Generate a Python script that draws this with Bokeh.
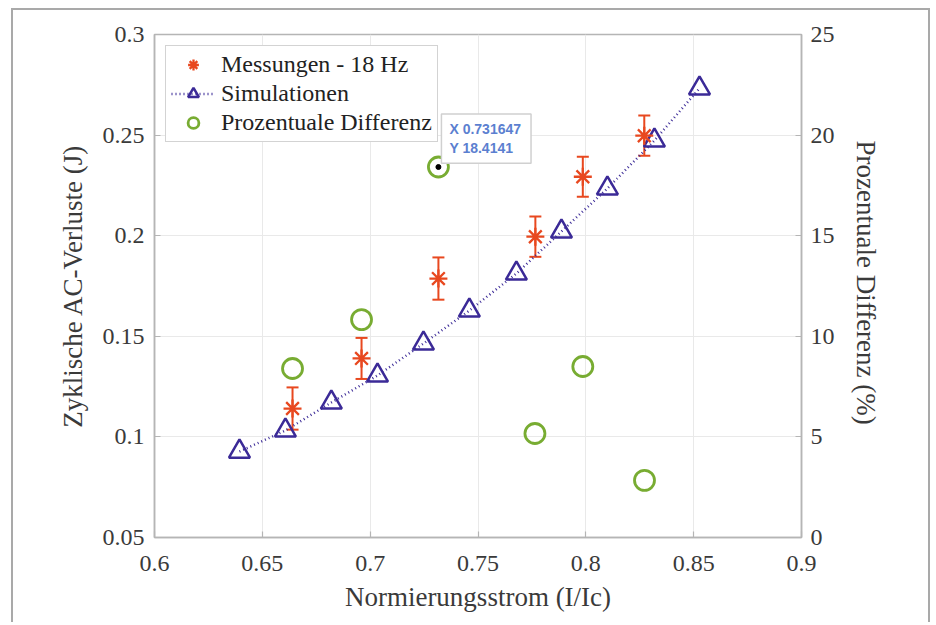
import math
from bokeh.plotting import figure
from bokeh.models import (Range1d, LinearAxis, FixedTicker, Whisker, ColumnDataSource,
                          Legend, LegendItem, Label, TeeHead)
from bokeh.embed import file_html
from bokeh.resources import INLINE

# ---- data ----
sim_x = [0.6394, 0.6607, 0.6820, 0.7034, 0.7247, 0.7460, 0.7678, 0.7887, 0.8100, 0.8318, 0.8527]
sim_y = [0.0927, 0.1032, 0.1171, 0.1305, 0.1464, 0.1628, 0.1812, 0.2021, 0.2235, 0.2473, 0.2732]

meas_x = [0.6640, 0.6960, 0.731647, 0.7766, 0.7986, 0.8271]
meas_y = [0.1141, 0.1390, 0.1787, 0.1995, 0.2293, 0.2497]
meas_err = [0.0105, 0.0102, 0.0105, 0.0100, 0.0100, 0.0100]

diff_x = [0.6640, 0.6960, 0.731647, 0.7764, 0.7986, 0.8272]
diff_y = [8.40, 10.83, 18.4141, 5.17, 8.50, 2.84]

x_ticks = [0.6, 0.65, 0.7, 0.75, 0.8, 0.85, 0.9]
x_labels = ["0.6", "0.65", "0.7", "0.75", "0.8", "0.85", "0.9"]
yl_ticks = [0.05, 0.1, 0.15, 0.2, 0.25, 0.3]
yl_labels = ["0.05", "0.1", "0.15", "0.2", "0.25", "0.3"]
yr_ticks = [0, 5, 10, 15, 20, 25]
yr_labels = ["0", "5", "10", "15", "20", "25"]

tip_x = 0.731647
tip_y = 18.4141

FONT = "Liberation Serif"
TXT = "#3a3a3a"
AX = "#b5b5b5"
RED = "#E8481F"
BLUE = "#3B2A97"
GREEN = "#78AC32"

X0, X1 = 0.6, 0.9
YL0, YL1 = 0.05, 0.3
YR0, YR1 = 0, 25

W, H = 932, 622
p = figure(width=W, height=H, output_backend="svg", toolbar_location=None,
           x_range=Range1d(X0, X1), y_range=Range1d(YL0, YL1),
           min_border_left=154, min_border_right=W - 154 - 647, min_border_top=34,
           min_border_bottom=H - 34 - 503,
           background_fill_color="white", border_fill_color="white")
p.extra_y_ranges = {"pct": Range1d(YR0, YR1)}
p.outline_line_color = AX
p.outline_line_width = 1.5
# light picture frame around the whole chart (open at the bottom)
p.stylesheets = [":host::after { content: ''; position: absolute; left: 11px; top: 8px; "
                 "width: 919px; height: 614px; border: 2px solid #a9a9a9; border-bottom: none; "
                 "box-sizing: border-box; pointer-events: none; z-index: 100; }"]

def style_axis(ax, size="24px"):
    ax.axis_line_color = AX
    ax.axis_line_width = 1.5
    ax.major_tick_line_color = AX
    ax.major_tick_line_width = 1.2
    ax.major_tick_in = 6
    ax.major_tick_out = 0
    ax.minor_tick_line_color = None
    ax.major_label_text_font = FONT
    ax.major_label_text_font_size = size
    ax.major_label_text_color = TXT
    ax.axis_label_text_font = FONT
    ax.axis_label_text_font_size = "27px"
    ax.axis_label_text_color = TXT
    ax.axis_label_text_font_style = "normal"

xa = p.xaxis[0]
xa.ticker = FixedTicker(ticks=x_ticks)
xa.major_label_overrides = dict(zip(x_ticks, x_labels))
xa.axis_label = "Normierungsstrom (I/Ic)"
style_axis(xa)
xa.major_label_standoff = 18
xa.axis_label_standoff = 8

ya = p.yaxis[0]
ya.ticker = FixedTicker(ticks=yl_ticks)
ya.major_label_overrides = dict(zip(yl_ticks, yl_labels))
ya.axis_label = "Zyklische AC-Verluste (J)"
style_axis(ya)
ya.major_label_standoff = 10
ya.axis_label_standoff = 12

yr = LinearAxis(y_range_name="pct", ticker=FixedTicker(ticks=yr_ticks),
                axis_label="Prozentuale Differenz  (%)")
yr.major_label_overrides = dict(zip(yr_ticks, yr_labels))
style_axis(yr)
yr.major_label_standoff = 9
yr.axis_label_standoff = 13
p.add_layout(yr, "right")

p.xgrid.ticker = FixedTicker(ticks=x_ticks)
p.ygrid.ticker = FixedTicker(ticks=yl_ticks)
p.grid.grid_line_color = "#e9e9e9"
p.grid.grid_line_width = 1

# simulation
sim_line = p.line(sim_x, sim_y, line_color=BLUE, line_width=2.5, line_dash="1 3")
sim_pts = p.scatter(sim_x, sim_y, marker="triangle", size=21, line_color=BLUE,
                    line_width=2.5, fill_color=None)

# measurements with error bars
src = ColumnDataSource(dict(x=meas_x, y=meas_y,
                            lo=[a - b for a, b in zip(meas_y, meas_err)],
                            hi=[a + b for a, b in zip(meas_y, meas_err)]))
wh = Whisker(source=src, base="x", lower="lo", upper="hi", line_color=RED, line_width=2,
             upper_head=TeeHead(size=12, line_color=RED, line_width=2),
             lower_head=TeeHead(size=12, line_color=RED, line_width=2))
p.add_layout(wh)
meas_pts = p.scatter("x", "y", source=src, marker="asterisk", size=18, line_color=RED,
                     line_width=2.3)

# percentage difference
diff_pts = p.scatter(diff_x, diff_y, y_range_name="pct", marker="circle", size=20,
                     line_color=GREEN, line_width=2.8, fill_color=None)

legend = Legend(items=[
    LegendItem(label="Messungen - 18 Hz", renderers=[meas_pts]),
    LegendItem(label="Simulationen", renderers=[sim_line, sim_pts]),
    LegendItem(label="Prozentuale Differenz", renderers=[diff_pts]),
], location="top_left")
legend.margin = 11
legend.padding = 5
legend.spacing = 2
legend.glyph_width = 44
legend.glyph_height = 27
legend.label_height = 27
legend.label_standoff = 6
legend.label_text_font = FONT
legend.label_text_font_size = "24px"
legend.label_text_color = "#222222"
legend.border_line_color = "#a8a8a8"
legend.border_line_width = 1.5
legend.background_fill_color = "white"
legend.background_fill_alpha = 1.0
p.add_layout(legend)

# data tip
p.scatter([tip_x], [tip_y], y_range_name="pct", marker="circle", size=5,
          fill_color="black", line_color="black")
tip = Label(x=tip_x, y=tip_y, y_range_name="pct", x_offset=3, y_offset=53,
            anchor="top_left", text="X 0.731647\nY 18.4141", text_color="#5b7fd0",
            text_font="Liberation Sans", text_font_size="14px", text_font_style="bold",
            background_fill_color="white", background_fill_alpha=1.0,
            border_line_color="#d0d0d0", border_line_width=1.5, padding=(8, 10, 7, 7),
            level="overlay")
p.add_layout(tip)

open("out.html", "w").write(file_html(p, INLINE))
